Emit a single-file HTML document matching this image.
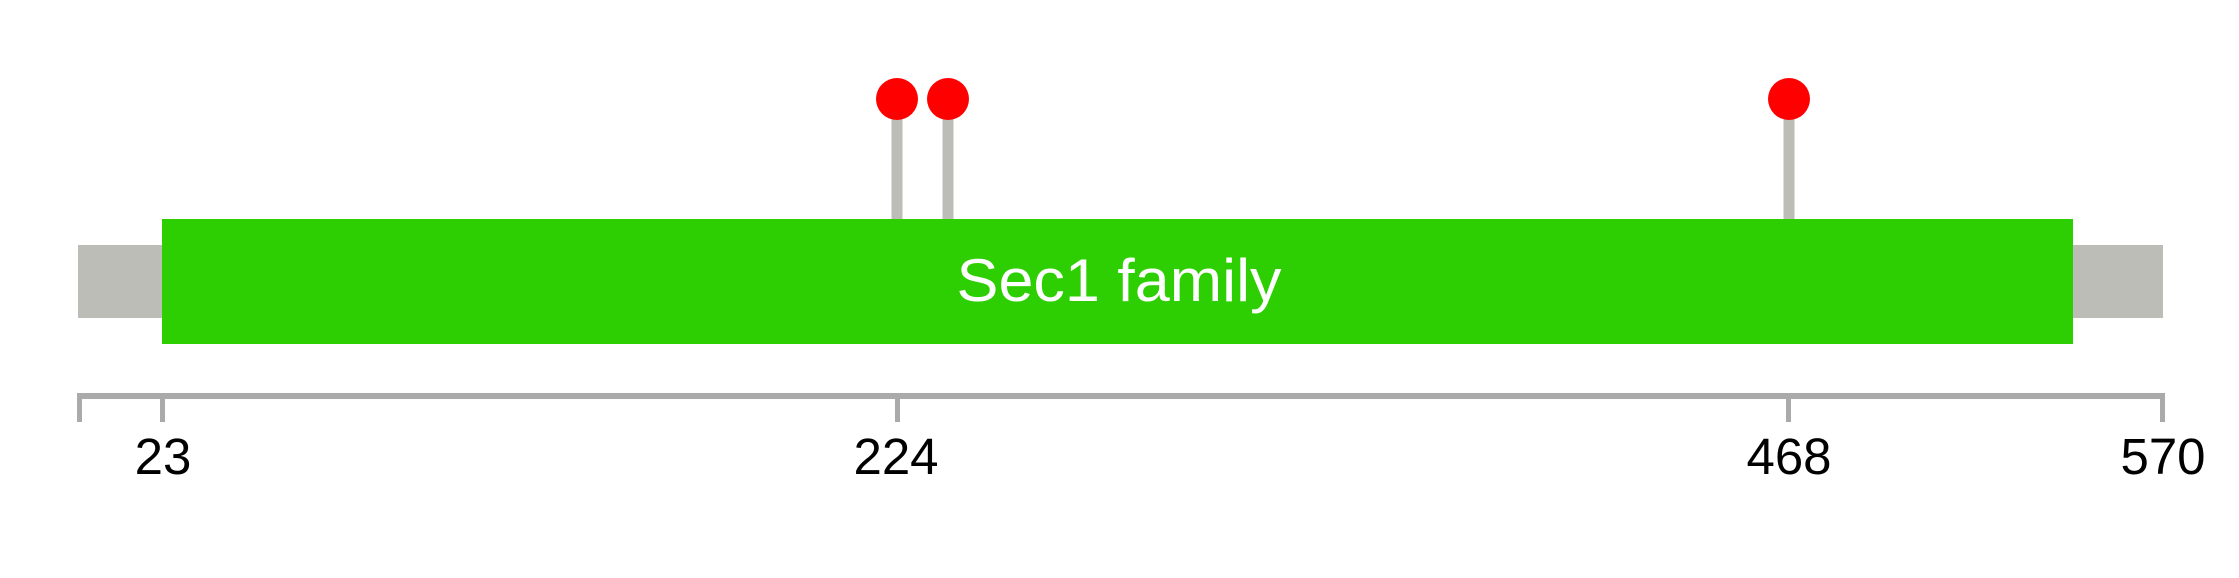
<!DOCTYPE html>
<html><head><style>
html,body{margin:0;padding:0;background:#fff;}
svg{display:block;}
</style></head><body>
<svg width="2239" height="578" xmlns="http://www.w3.org/2000/svg">
<rect x="78" y="245" width="2085" height="73" fill="#bbbdb6"/>
<line x1="897" y1="100" x2="897" y2="220" stroke="#bbbdb6" stroke-width="11"/>
<line x1="948" y1="100" x2="948" y2="220" stroke="#bbbdb6" stroke-width="11"/>
<line x1="1789" y1="100" x2="1789" y2="220" stroke="#bbbdb6" stroke-width="11"/>
<rect x="162" y="219" width="1911" height="125" fill="#2ecf02"/>
<circle cx="897" cy="99" r="21" fill="#ff0000"/>
<circle cx="948" cy="99" r="21" fill="#ff0000"/>
<circle cx="1789" cy="99" r="21" fill="#ff0000"/>
<text x="1119" y="301" font-family="Liberation Sans, sans-serif" font-size="60" fill="#fff" text-anchor="middle" textLength="325" lengthAdjust="spacingAndGlyphs">Sec1 family</text>
<rect x="78" y="393" width="2086" height="6" fill="#aaaaaa"/>
<rect x="77" y="393" width="5" height="29" fill="#aaaaaa"/>
<rect x="160" y="393" width="5" height="29" fill="#aaaaaa"/>
<rect x="895" y="393" width="5" height="29" fill="#aaaaaa"/>
<rect x="1786" y="393" width="5" height="29" fill="#aaaaaa"/>
<rect x="2160" y="393" width="5" height="29" fill="#aaaaaa"/>
<g font-family="Liberation Sans, sans-serif" font-size="51" fill="#000" text-anchor="middle">
<text x="163" y="474">23</text>
<text x="896" y="474">224</text>
<text x="1789" y="474">468</text>
<text x="2163" y="474">570</text>
</g>
</svg>
</body></html>
